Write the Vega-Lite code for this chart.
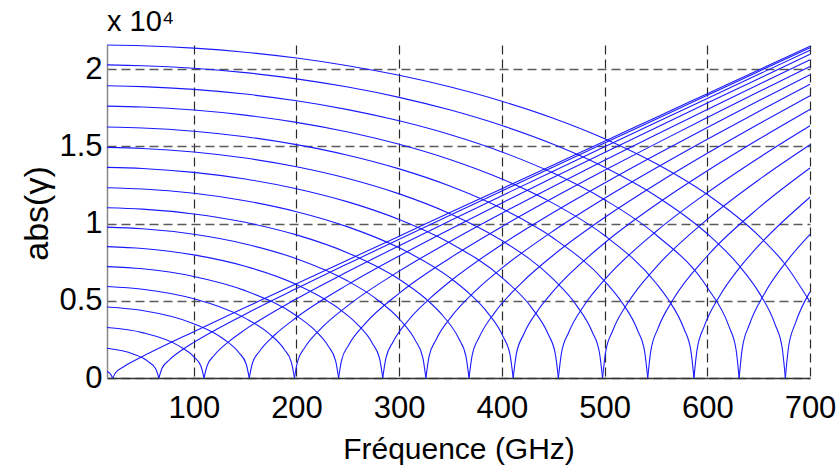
{
  "$schema": "https://vega.github.io/schema/vega-lite/v6.json",
  "width": 703,
  "height": 333,
  "autosize": {"type": "none"},
  "padding": {"left": 107, "top": 45, "right": 30, "bottom": 90},
  "background": "white",
  "config": {"view": {"stroke": null}, "font": "Liberation Sans"},
  "title": {"text": "x 10⁴", "anchor": "start", "frame": "group", "fontSize": 29, "fontWeight": "normal", "font": "Liberation Sans", "color": "black", "offset": 6},
  "data": {"values": [
    {"m":0,"b":"d","f":15.5,"g":425},{"m":0,"b":"d","f":18,"g":325},{"m":0,"b":"d","f":21,"g":0},
    {"m":0,"b":"r","f":21,"g":0},{"m":0,"b":"r","f":24,"g":357},{"m":0,"b":"r","f":31,"g":700},{"m":0,"b":"r","f":46,"g":1256},{"m":0,"b":"r","f":50,"g":1393},{"m":0,"b":"r","f":100,"g":3002},{"m":0,"b":"r","f":150,"g":4560},{"m":0,"b":"r","f":200,"g":6106},{"m":0,"b":"r","f":250,"g":7648},{"m":0,"b":"r","f":300,"g":9187},{"m":0,"b":"r","f":350,"g":10726},{"m":0,"b":"r","f":400,"g":12263},{"m":0,"b":"r","f":450,"g":13800},{"m":0,"b":"r","f":500,"g":15336},{"m":0,"b":"r","f":550,"g":16873},{"m":0,"b":"r","f":600,"g":18409},{"m":0,"b":"r","f":650,"g":19945},{"m":0,"b":"r","f":700,"g":21480},
    {"m":1,"b":"d","f":15.5,"g":1925},{"m":1,"b":"d","f":41,"g":1552},{"m":1,"b":"d","f":56,"g":1048},{"m":1,"b":"d","f":63,"g":590},{"m":1,"b":"d","f":66,"g":0},
    {"m":1,"b":"r","f":66,"g":0},{"m":1,"b":"r","f":69,"g":618},{"m":1,"b":"r","f":76,"g":1157},{"m":1,"b":"r","f":91,"g":1923},{"m":1,"b":"r","f":100,"g":2306},{"m":1,"b":"r","f":150,"g":4135},{"m":1,"b":"r","f":200,"g":5796},{"m":1,"b":"r","f":250,"g":7403},{"m":1,"b":"r","f":300,"g":8984},{"m":1,"b":"r","f":350,"g":10552},{"m":1,"b":"r","f":400,"g":12112},{"m":1,"b":"r","f":450,"g":13666},{"m":1,"b":"r","f":500,"g":15216},{"m":1,"b":"r","f":550,"g":16763},{"m":1,"b":"r","f":600,"g":18308},{"m":1,"b":"r","f":650,"g":19852},{"m":1,"b":"r","f":700,"g":21394},
    {"m":2,"b":"d","f":15.5,"g":3267},{"m":2,"b":"d","f":50,"g":2939},{"m":2,"b":"d","f":85,"g":2095},{"m":2,"b":"d","f":100,"g":1375},{"m":2,"b":"d","f":107,"g":765},{"m":2,"b":"d","f":110,"g":0},
    {"m":2,"b":"r","f":110,"g":0},{"m":2,"b":"r","f":113,"g":794},{"m":2,"b":"r","f":120,"g":1472},{"m":2,"b":"r","f":135,"g":2403},{"m":2,"b":"r","f":150,"g":3131},{"m":2,"b":"r","f":200,"g":5128},{"m":2,"b":"r","f":250,"g":6892},{"m":2,"b":"r","f":300,"g":8569},{"m":2,"b":"r","f":350,"g":10201},{"m":2,"b":"r","f":400,"g":11807},{"m":2,"b":"r","f":450,"g":13396},{"m":2,"b":"r","f":500,"g":14974},{"m":2,"b":"r","f":550,"g":16544},{"m":2,"b":"r","f":600,"g":18108},{"m":2,"b":"r","f":650,"g":19667},{"m":2,"b":"r","f":700,"g":21223},
    {"m":3,"b":"d","f":15.5,"g":4597},{"m":3,"b":"d","f":50,"g":4370},{"m":3,"b":"d","f":100,"g":3514},{"m":3,"b":"d","f":129,"g":2523},{"m":3,"b":"d","f":144,"g":1638},{"m":3,"b":"d","f":151,"g":907},{"m":3,"b":"d","f":154,"g":0},
    {"m":3,"b":"r","f":154,"g":0},{"m":3,"b":"r","f":157,"g":938},{"m":3,"b":"r","f":164,"g":1731},{"m":3,"b":"r","f":179,"g":2801},{"m":3,"b":"r","f":200,"g":3918},{"m":3,"b":"r","f":250,"g":6046},{"m":3,"b":"r","f":300,"g":7904},{"m":3,"b":"r","f":350,"g":9649},{"m":3,"b":"r","f":400,"g":11334},{"m":3,"b":"r","f":450,"g":12981},{"m":3,"b":"r","f":500,"g":14604},{"m":3,"b":"r","f":550,"g":16210},{"m":3,"b":"r","f":600,"g":17803},{"m":3,"b":"r","f":650,"g":19387},{"m":3,"b":"r","f":700,"g":20963},
    {"m":4,"b":"d","f":15.5,"g":5922},{"m":4,"b":"d","f":50,"g":5747},{"m":4,"b":"d","f":100,"g":5127},{"m":4,"b":"d","f":150,"g":3877},{"m":4,"b":"d","f":173,"g":2889},{"m":4,"b":"d","f":188,"g":1864},{"m":4,"b":"d","f":195,"g":1030},{"m":4,"b":"d","f":198,"g":0},
    {"m":4,"b":"r","f":198,"g":0},{"m":4,"b":"r","f":201,"g":1062},{"m":4,"b":"r","f":208,"g":1956},{"m":4,"b":"r","f":223,"g":3150},{"m":4,"b":"r","f":250,"g":4686},{"m":4,"b":"r","f":300,"g":6919},{"m":4,"b":"r","f":350,"g":8860},{"m":4,"b":"r","f":400,"g":10670},{"m":4,"b":"r","f":450,"g":12406},{"m":4,"b":"r","f":500,"g":14095},{"m":4,"b":"r","f":550,"g":15753},{"m":4,"b":"r","f":600,"g":17388},{"m":4,"b":"r","f":650,"g":19007},{"m":4,"b":"r","f":700,"g":20612},
    {"m":5,"b":"d","f":15.5,"g":7215},{"m":5,"b":"d","f":50,"g":7073},{"m":5,"b":"d","f":100,"g":6578},{"m":5,"b":"d","f":150,"g":5659},{"m":5,"b":"d","f":200,"g":4034},{"m":5,"b":"d","f":216,"g":3207},{"m":5,"b":"d","f":231,"g":2061},{"m":5,"b":"d","f":238,"g":1137},{"m":5,"b":"d","f":241,"g":0},
    {"m":5,"b":"r","f":241,"g":0},{"m":5,"b":"r","f":244,"g":1171},{"m":5,"b":"r","f":251,"g":2153},{"m":5,"b":"r","f":266,"g":3456},{"m":5,"b":"r","f":300,"g":5485},{"m":5,"b":"r","f":350,"g":7792},{"m":5,"b":"r","f":400,"g":9801},{"m":5,"b":"r","f":450,"g":11667},{"m":5,"b":"r","f":500,"g":13449},{"m":5,"b":"r","f":550,"g":15178},{"m":5,"b":"r","f":600,"g":16869},{"m":5,"b":"r","f":650,"g":18533},{"m":5,"b":"r","f":700,"g":20176},
    {"m":6,"b":"d","f":15.5,"g":8507},{"m":6,"b":"d","f":50,"g":8387},{"m":6,"b":"d","f":100,"g":7974},{"m":6,"b":"d","f":150,"g":7235},{"m":6,"b":"d","f":200,"g":6049},{"m":6,"b":"d","f":250,"g":4042},{"m":6,"b":"d","f":259,"g":3495},{"m":6,"b":"d","f":274,"g":2241},{"m":6,"b":"d","f":281,"g":1235},{"m":6,"b":"d","f":284,"g":0},
    {"m":6,"b":"r","f":284,"g":0},{"m":6,"b":"r","f":287,"g":1271},{"m":6,"b":"r","f":294,"g":2334},{"m":6,"b":"r","f":309,"g":3738},{"m":6,"b":"r","f":330,"g":5159},{"m":6,"b":"r","f":350,"g":6280},{"m":6,"b":"r","f":400,"g":8648},{"m":6,"b":"r","f":450,"g":10716},{"m":6,"b":"r","f":500,"g":12633},{"m":6,"b":"r","f":550,"g":14460},{"m":6,"b":"r","f":600,"g":16226},{"m":6,"b":"r","f":650,"g":17949},{"m":6,"b":"r","f":700,"g":19642},
    {"m":7,"b":"d","f":15.5,"g":9769},{"m":7,"b":"d","f":50,"g":9664},{"m":7,"b":"d","f":100,"g":9308},{"m":7,"b":"d","f":150,"g":8683},{"m":7,"b":"d","f":200,"g":7723},{"m":7,"b":"d","f":250,"g":6277},{"m":7,"b":"d","f":275,"g":5252},{"m":7,"b":"d","f":301,"g":3756},{"m":7,"b":"d","f":316,"g":2404},{"m":7,"b":"d","f":323,"g":1324},{"m":7,"b":"d","f":326,"g":0},
    {"m":7,"b":"r","f":326,"g":0},{"m":7,"b":"r","f":329,"g":1361},{"m":7,"b":"r","f":336,"g":2498},{"m":7,"b":"r","f":351,"g":3994},{"m":7,"b":"r","f":375,"g":5690},{"m":7,"b":"r","f":400,"g":7116},{"m":7,"b":"r","f":450,"g":9523},{"m":7,"b":"r","f":500,"g":11639},{"m":7,"b":"r","f":550,"g":13599},{"m":7,"b":"r","f":600,"g":15464},{"m":7,"b":"r","f":650,"g":17264},{"m":7,"b":"r","f":700,"g":19017},
    {"m":8,"b":"d","f":15.5,"g":11030},{"m":8,"b":"d","f":50,"g":10938},{"m":8,"b":"d","f":100,"g":10625},{"m":8,"b":"d","f":150,"g":10081},{"m":8,"b":"d","f":200,"g":9267},{"m":8,"b":"d","f":250,"g":8101},{"m":8,"b":"d","f":300,"g":6394},{"m":8,"b":"d","f":325,"g":5179},{"m":8,"b":"d","f":343,"g":4000},{"m":8,"b":"d","f":358,"g":2556},{"m":8,"b":"d","f":365,"g":1407},{"m":8,"b":"d","f":368,"g":0},
    {"m":8,"b":"r","f":368,"g":0},{"m":8,"b":"r","f":371,"g":1446},{"m":8,"b":"r","f":378,"g":2652},{"m":8,"b":"r","f":393,"g":4235},{"m":8,"b":"r","f":420,"g":6214},{"m":8,"b":"r","f":450,"g":7951},{"m":8,"b":"r","f":500,"g":10392},{"m":8,"b":"r","f":550,"g":12549},{"m":8,"b":"r","f":600,"g":14549},{"m":8,"b":"r","f":650,"g":16449},{"m":8,"b":"r","f":700,"g":18281},
    {"m":9,"b":"d","f":15.5,"g":12321},{"m":9,"b":"d","f":50,"g":12238},{"m":9,"b":"d","f":100,"g":11960},{"m":9,"b":"d","f":150,"g":11480},{"m":9,"b":"d","f":200,"g":10772},{"m":9,"b":"d","f":250,"g":9787},{"m":9,"b":"d","f":300,"g":8428},{"m":9,"b":"d","f":350,"g":6464},{"m":9,"b":"d","f":370,"g":5368},{"m":9,"b":"d","f":386,"g":4235},{"m":9,"b":"d","f":401,"g":2703},{"m":9,"b":"d","f":408,"g":1487},{"m":9,"b":"d","f":411,"g":0},
    {"m":9,"b":"r","f":411,"g":0},{"m":9,"b":"r","f":414,"g":1527},{"m":9,"b":"r","f":421,"g":2800},{"m":9,"b":"r","f":436,"g":4468},{"m":9,"b":"r","f":450,"g":5626},{"m":9,"b":"r","f":500,"g":8742},{"m":9,"b":"r","f":550,"g":11221},{"m":9,"b":"r","f":600,"g":13420},{"m":9,"b":"r","f":650,"g":15460},{"m":9,"b":"r","f":700,"g":17396},
    {"m":10,"b":"d","f":15.5,"g":13642},{"m":10,"b":"d","f":50,"g":13567},{"m":10,"b":"d","f":100,"g":13316},{"m":10,"b":"d","f":150,"g":12887},{"m":10,"b":"d","f":200,"g":12261},{"m":10,"b":"d","f":250,"g":11405},{"m":10,"b":"d","f":300,"g":10263},{"m":10,"b":"d","f":350,"g":8722},{"m":10,"b":"d","f":400,"g":6506},{"m":10,"b":"d","f":430,"g":4463},{"m":10,"b":"d","f":445,"g":2846},{"m":10,"b":"d","f":452,"g":1565},{"m":10,"b":"d","f":455,"g":0},
    {"m":10,"b":"r","f":455,"g":0},{"m":10,"b":"r","f":458,"g":1607},{"m":10,"b":"r","f":465,"g":2945},{"m":10,"b":"r","f":480,"g":4694},{"m":10,"b":"r","f":500,"g":6364},{"m":10,"b":"r","f":550,"g":9486},{"m":10,"b":"r","f":600,"g":12007},{"m":10,"b":"r","f":650,"g":14251},{"m":10,"b":"r","f":700,"g":16331},
    {"m":11,"b":"d","f":15.5,"g":14933},{"m":11,"b":"d","f":50,"g":14864},{"m":11,"b":"d","f":100,"g":14636},{"m":11,"b":"d","f":150,"g":14246},{"m":11,"b":"d","f":200,"g":13682},{"m":11,"b":"d","f":250,"g":12921},{"m":11,"b":"d","f":300,"g":11925},{"m":11,"b":"d","f":350,"g":10628},{"m":11,"b":"d","f":400,"g":8900},{"m":11,"b":"d","f":450,"g":6400},{"m":11,"b":"d","f":473,"g":4674},{"m":11,"b":"d","f":488,"g":2979},{"m":11,"b":"d","f":495,"g":1637},{"m":11,"b":"d","f":498,"g":0},
    {"m":11,"b":"r","f":498,"g":0},{"m":11,"b":"r","f":501,"g":1681},{"m":11,"b":"r","f":508,"g":3079},{"m":11,"b":"r","f":523,"g":4905},{"m":11,"b":"r","f":550,"g":7167},{"m":11,"b":"r","f":600,"g":10274},{"m":11,"b":"r","f":650,"g":12824},{"m":11,"b":"r","f":700,"g":15102},
    {"m":12,"b":"d","f":15.5,"g":16253},{"m":12,"b":"d","f":50,"g":16191},{"m":12,"b":"d","f":100,"g":15981},{"m":12,"b":"d","f":150,"g":15625},{"m":12,"b":"d","f":200,"g":15113},{"m":12,"b":"d","f":250,"g":14427},{"m":12,"b":"d","f":300,"g":13542},{"m":12,"b":"d","f":350,"g":12415},{"m":12,"b":"d","f":400,"g":10972},{"m":12,"b":"d","f":450,"g":9063},{"m":12,"b":"d","f":500,"g":6276},{"m":12,"b":"d","f":517,"g":4881},{"m":12,"b":"d","f":532,"g":3109},{"m":12,"b":"d","f":539,"g":1709},{"m":12,"b":"d","f":542,"g":0},
    {"m":12,"b":"r","f":542,"g":0},{"m":12,"b":"r","f":545,"g":1753},{"m":12,"b":"r","f":552,"g":3211},{"m":12,"b":"r","f":567,"g":5112},{"m":12,"b":"r","f":600,"g":7901},{"m":12,"b":"r","f":650,"g":11015},{"m":12,"b":"r","f":700,"g":13600},
    {"m":13,"b":"d","f":15.5,"g":17604},{"m":13,"b":"d","f":50,"g":17546},{"m":13,"b":"d","f":100,"g":17353},{"m":13,"b":"d","f":150,"g":17025},{"m":13,"b":"d","f":200,"g":16556},{"m":13,"b":"d","f":250,"g":15933},{"m":13,"b":"d","f":300,"g":15137},{"m":13,"b":"d","f":350,"g":14137},{"m":13,"b":"d","f":400,"g":12888},{"m":13,"b":"d","f":450,"g":11308},{"m":13,"b":"d","f":500,"g":9226},{"m":13,"b":"d","f":550,"g":6153},{"m":13,"b":"d","f":562,"g":5084},{"m":13,"b":"d","f":577,"g":3237},{"m":13,"b":"d","f":584,"g":1778},{"m":13,"b":"d","f":587,"g":0},
    {"m":13,"b":"r","f":587,"g":0},{"m":13,"b":"r","f":590,"g":1824},{"m":13,"b":"r","f":597,"g":3341},{"m":13,"b":"r","f":612,"g":5315},{"m":13,"b":"r","f":630,"g":7023},{"m":13,"b":"r","f":650,"g":8570},{"m":13,"b":"r","f":700,"g":11707},
    {"m":14,"b":"d","f":15.5,"g":18924},{"m":14,"b":"d","f":50,"g":18871},{"m":14,"b":"d","f":100,"g":18691},{"m":14,"b":"d","f":150,"g":18387},{"m":14,"b":"d","f":200,"g":17954},{"m":14,"b":"d","f":250,"g":17381},{"m":14,"b":"d","f":300,"g":16654},{"m":14,"b":"d","f":350,"g":15751},{"m":14,"b":"d","f":400,"g":14641},{"m":14,"b":"d","f":450,"g":13270},{"m":14,"b":"d","f":500,"g":11548},{"m":14,"b":"d","f":550,"g":9279},{"m":14,"b":"d","f":600,"g":5861},{"m":14,"b":"d","f":621,"g":3357},{"m":14,"b":"d","f":628,"g":1844},{"m":14,"b":"d","f":631,"g":0},
    {"m":14,"b":"r","f":631,"g":0},{"m":14,"b":"r","f":634,"g":1891},{"m":14,"b":"r","f":641,"g":3462},{"m":14,"b":"r","f":656,"g":5507},{"m":14,"b":"r","f":680,"g":7781},{"m":14,"b":"r","f":700,"g":9304},
    {"m":15,"b":"d","f":15.5,"g":20275},{"m":15,"b":"d","f":50,"g":20225},{"m":15,"b":"d","f":100,"g":20057},{"m":15,"b":"d","f":150,"g":19775},{"m":15,"b":"d","f":200,"g":19372},{"m":15,"b":"d","f":250,"g":18842},{"m":15,"b":"d","f":300,"g":18174},{"m":15,"b":"d","f":350,"g":17350},{"m":15,"b":"d","f":400,"g":16349},{"m":15,"b":"d","f":450,"g":15134},{"m":15,"b":"d","f":500,"g":13648},{"m":15,"b":"d","f":550,"g":11791},{"m":15,"b":"d","f":600,"g":9342},{"m":15,"b":"d","f":630,"g":7353},{"m":15,"b":"d","f":651,"g":5464},{"m":15,"b":"d","f":666,"g":3476},{"m":15,"b":"d","f":673,"g":1909},{"m":15,"b":"d","f":676,"g":0},
    {"m":15,"b":"r","f":676,"g":0},{"m":15,"b":"r","f":679,"g":1957},{"m":15,"b":"r","f":686,"g":3583},{"m":15,"b":"r","f":700,"g":5579},
    {"m":16,"b":"d","f":15.5,"g":21565},{"m":16,"b":"d","f":50,"g":21518},{"m":16,"b":"d","f":100,"g":21360},{"m":16,"b":"d","f":150,"g":21095},{"m":16,"b":"d","f":200,"g":20719},{"m":16,"b":"d","f":250,"g":20224},{"m":16,"b":"d","f":300,"g":19603},{"m":16,"b":"d","f":350,"g":18842},{"m":16,"b":"d","f":400,"g":17924},{"m":16,"b":"d","f":450,"g":16823},{"m":16,"b":"d","f":500,"g":15500},{"m":16,"b":"d","f":550,"g":13893},{"m":16,"b":"d","f":600,"g":11885},{"m":16,"b":"d","f":650,"g":9221},{"m":16,"b":"d","f":675,"g":7430},{"m":16,"b":"d","f":700,"g":4926}
  ]},
  "mark": {"type": "line", "color": "#1a1aff", "strokeWidth": 1.1, "interpolate": "monotone"},
  "encoding": {
    "x": {
      "field": "f", "type": "quantitative",
      "scale": {"domain": [15.5, 700], "nice": false, "zero": false},
      "axis": {
        "title": "Fréquence (GHz)",
        "values": [100, 200, 300, 400, 500, 600, 700],
        "grid": true, "gridDash": [9, 5], "gridColor": "#2a2a2a", "gridWidth": 1.2,
        "ticks": false, "labelPadding": 15, "labelFontSize": 31, "labelColor": "black",
        "labelFlush": false, "labelOverlap": false,
        "domainColor": "#333", "domainWidth": 1.5,
        "titleFontSize": 30, "titleFontWeight": "normal", "titleColor": "black",
        "titleX": 351.5, "titleY": 80, "titleBaseline": "alphabetic", "titleAlign": "center"
      }
    },
    "y": {
      "field": "g", "type": "quantitative",
      "scale": {"domain": [0, 21565], "nice": false},
      "axis": {
        "title": "abs(γ)",
        "values": [0, 5000, 10000, 15000, 20000],
        "labelExpr": "'' + datum.value / 10000",
        "grid": true, "gridDash": [9, 5], "gridColor": "#5a5a5a", "gridWidth": 1.4,
        "ticks": false, "labelPadding": 5, "labelFontSize": 31, "labelColor": "black",
        "labelFlush": false, "labelOverlap": false,
        "domainColor": "#888", "domainWidth": 1.5,
        "titleFontSize": 34, "titleFontWeight": "normal", "titleColor": "black",
        "titleAngle": -90, "titleX": -70, "titleY": 168, "titleAlign": "center", "titleBaseline": "middle"
      }
    },
    "detail": [{"field": "m", "type": "nominal"}, {"field": "b", "type": "nominal"}]
  }
}
